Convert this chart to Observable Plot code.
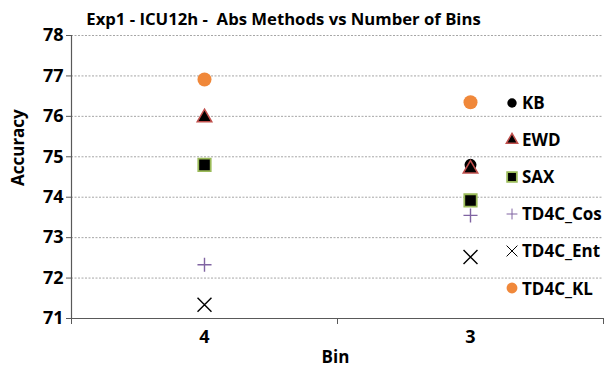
<!DOCTYPE html>
<html>
<head>
<meta charset="utf-8">
<script src="https://cdn.jsdelivr.net/npm/d3@7"></script>
<script src="https://cdn.jsdelivr.net/npm/@observablehq/plot@0.6"></script>
<style>
  html, body { margin: 0; padding: 0; background: #fff; }
  #wrap { position: relative; width: 613px; height: 373px; font-family: "Open Sans", sans-serif; }
  #legend { position: absolute; left: 504px; top: 84px; }
  .row { display: flex; align-items: center; height: 37.1px; font-size: 17px; font-weight: bold; color: #000; white-space: nowrap; }
  .row svg { margin-right: 2px; }
</style>
</head>
<body>
<div id="wrap"></div>
<script>
// Accuracy (%) of each abstraction method for each number of bins
const bins = ["4", "3"];
const kb = [74.8, 74.8];
const ewd = [75.97, 74.7];
const sax = [74.8, 73.92];
const td4cCos = [72.33, 73.55];
const td4cEnt = [71.34, 72.52];
const td4cKL = [76.91, 76.35];
const yTicks = [71, 72, 73, 74, 75, 76, 77, 78];

const series = [
  {name: "KB", values: kb, symbol: "circle", r: 6, fill: "#000", stroke: "none", sw: 0},
  {name: "EWD", values: ewd, symbol: "triangle", r: 5.4, fill: "#000", stroke: "#c0504d", sw: 1.5},
  {name: "SAX", values: sax, symbol: "square", r: 7, fill: "#000", stroke: "#9bbb59", sw: 1.8},
  {name: "TD4C_Cos", values: td4cCos, symbol: "plus", r: 4.6, fill: "none", stroke: "#8064a2", sw: 1.4},
  {name: "TD4C_Ent", values: td4cEnt, symbol: "times", r: 6.4, fill: "none", stroke: "#000", sw: 1.4},
  {name: "TD4C_KL", values: td4cKL, symbol: "circle", r: 7, fill: "#f0883a", stroke: "none", sw: 0}
];

// bins sit in the middle of unit-wide slots; slot edges carry the tick marks
const pos = bins.map((b, i) => i + 0.5);
const edges = d3.range(bins.length + 1);

const dotMarks = series.map(s => Plot.dot(
  s.values.map((v, i) => ({x: pos[i], y: v})),
  {x: "x", y: "y", symbol: s.symbol, r: s.r, fill: s.fill, stroke: s.stroke, strokeWidth: s.sw}
));

const chart = Plot.plot({
  width: 613,
  height: 373,
  marginLeft: 71,
  marginRight: 10,
  marginTop: 35,
  marginBottom: 55,
  style: {fontFamily: "'Open Sans', sans-serif", background: "#fff", overflow: "visible"},
  x: {type: "linear", domain: [0, bins.length]},
  y: {type: "linear", domain: [71, 78]},
  marks: [
    Plot.gridY(yTicks.slice(1), {stroke: "#a6a6a6", strokeOpacity: 1, strokeDasharray: "2,1.5", strokeWidth: 1}),
    Plot.axisY(yTicks, {tickSize: 5, tickPadding: 3, stroke: "#595959", fontSize: 18, fontWeight: "bold", fill: "#000", label: null}),
    Plot.axisX(edges, {tickSize: 6, stroke: "#595959", tickFormat: () => "", label: null}),
    Plot.axisX(pos, {tickSize: 0, tickPadding: 12, fontSize: 18, fontWeight: "bold", fill: "#000",
      tickFormat: (d, i) => bins[i], label: null}),
    Plot.ruleY([71], {stroke: "#595959", strokeWidth: 1.2}),
    Plot.ruleX([0], {stroke: "#595959", strokeWidth: 1.2}),
    ...dotMarks,
    // chart and axis titles
    Plot.text(["Exp1 - ICU12h -  Abs Methods vs Number of Bins"], {frameAnchor: "top", dy: -22, dx: -54, fontSize: 16.7, fontWeight: "bold", fill: "#000"}),
    Plot.text(["Accuracy"], {frameAnchor: "left", rotate: -90, dx: -53, dy: 9, fontSize: 17, fontWeight: "bold", fill: "#000"}),
    Plot.text(["Bin"], {frameAnchor: "bottom", dy: 44, dx: -2, fontSize: 17, fontWeight: "bold", fill: "#000"})
  ]
});

const wrap = document.getElementById("wrap");
wrap.appendChild(chart);

// legend
const legend = document.createElement("div");
legend.id = "legend";
const symbolPaths = {circle: d3.symbolCircle, triangle: d3.symbolTriangle, square: d3.symbolSquare, plus: d3.symbolPlus, times: d3.symbolTimes};
for (const s of series) {
  const row = document.createElement("div");
  row.className = "row";
  const sz = 16;
  const svg = d3.create("svg").attr("width", sz).attr("height", sz);
  const area = Math.PI * Math.pow(s.r * 0.78, 2);
  svg.append("path")
    .attr("transform", `translate(${sz / 2},${sz / 2})`)
    .attr("d", d3.symbol(symbolPaths[s.symbol], area)())
    .attr("fill", s.fill)
    .attr("stroke", s.stroke)
    .attr("stroke-width", s.symbol === "plus" || s.symbol === "times" ? 1 : s.sw);
  row.appendChild(svg.node());
  const label = document.createElement("span");
  label.textContent = s.name;
  row.appendChild(label);
  legend.appendChild(row);
}
wrap.appendChild(legend);
</script>
</body>
</html>
